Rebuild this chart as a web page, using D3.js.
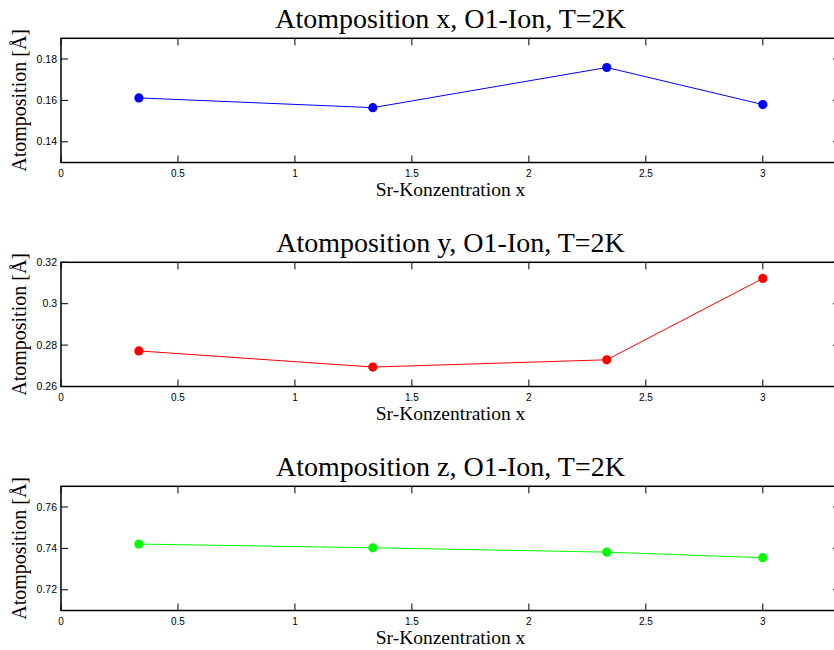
<!DOCTYPE html>
<html>
<head>
<meta charset="utf-8">
<script src="https://cdn.jsdelivr.net/npm/d3@7"></script>
<style>
  html, body { margin: 0; padding: 0; background: #fff; }
  svg { display: block; }
</style>
</head>
<body>
<svg id="chart" width="834" height="650"></svg>
<script>
// ---- data ----
const concentration = [0.333, 1.333, 2.333, 3.0];
const posX = [0.1612, 0.1565, 0.1759, 0.1580];
const posY = [0.2772, 0.2694, 0.2729, 0.3122];
const posZ = [0.7421, 0.7403, 0.7382, 0.7355];

const titles = ["Atomposition x, O1-Ion, T=2K", "Atomposition y, O1-Ion, T=2K", "Atomposition z, O1-Ion, T=2K"];
const seriesColors = ["#0000ff", "#ff0000", "#00ff00"];
const yDomains = [[0.13, 0.19], [0.26, 0.32], [0.71, 0.77]];
const yTickValues = [[0.14, 0.16, 0.18], [0.26, 0.28, 0.30, 0.32], [0.72, 0.74, 0.76]];
const xDomain = [0, 3.33];
const xTickValues = [0, 0.5, 1, 1.5, 2, 2.5, 3];
const xLabel = "Sr-Konzentration x";
const yLabel = "Atomposition [Å]";

// ---- layout ----
const svg = d3.select("#chart");
const left = 61, right = 840;
const panelTops = [38.3, 262.3, 486.3];
const panelH = 124.2;
const tickLen = 7;
const serif = "'Liberation Serif', 'Times New Roman', serif";
const sans = "'Liberation Sans', Arial, sans-serif";

const x = d3.scaleLinear().domain(xDomain).range([left, right]);
const fmt = d => (d === 0 ? "0" : String(+d.toFixed(2)));

const allSeries = [posX, posY, posZ];

allSeries.forEach((vals, i) => {
  const top = panelTops[i], bottom = top + panelH;
  const y = d3.scaleLinear().domain(yDomains[i]).range([bottom, top]);
  const g = svg.append("g");

  // ticks inward on all sides
  const tg = g.append("g").attr("stroke", "#000").attr("stroke-width", 1);
  xTickValues.forEach(t => {
    tg.append("line").attr("x1", x(t)).attr("x2", x(t)).attr("y1", bottom).attr("y2", bottom - tickLen);
    tg.append("line").attr("x1", x(t)).attr("x2", x(t)).attr("y1", top).attr("y2", top + tickLen);
  });
  yTickValues[i].forEach(t => {
    tg.append("line").attr("x1", left).attr("x2", left + tickLen).attr("y1", y(t)).attr("y2", y(t));
    tg.append("line").attr("x1", right).attr("x2", right - tickLen).attr("y1", y(t)).attr("y2", y(t));
  });

  // frame
  g.append("rect")
    .attr("x", left).attr("y", top)
    .attr("width", right - left).attr("height", panelH)
    .attr("fill", "none").attr("stroke", "#000").attr("stroke-width", 1.5);

  // tick labels
  g.append("g").selectAll("text").data(xTickValues).join("text")
    .attr("x", d => x(d)).attr("y", bottom + 14.3)
    .attr("text-anchor", "middle")
    .attr("font-family", sans).attr("font-size", 10)
    .text(fmt);
  g.append("g").selectAll("text").data(yTickValues[i]).join("text")
    .attr("x", left - 4).attr("y", d => y(d) + 3.6)
    .attr("text-anchor", "end")
    .attr("font-family", sans).attr("font-size", 10.5)
    .text(fmt);

  // data line and markers
  const line = d3.line().x((d, j) => x(concentration[j])).y(d => y(d));
  g.append("path").datum(vals)
    .attr("d", line).attr("fill", "none")
    .attr("stroke", seriesColors[i]).attr("stroke-width", 1);
  g.append("g").selectAll("circle").data(vals).join("circle")
    .attr("cx", (d, j) => x(concentration[j])).attr("cy", d => y(d))
    .attr("r", 4.6).attr("fill", seriesColors[i]);

  // title
  g.append("text")
    .attr("x", (left + right) / 2).attr("y", top - 10.6)
    .attr("text-anchor", "middle")
    .attr("font-family", serif).attr("font-size", 28)
    .text(titles[i]);

  // x label
  g.append("text")
    .attr("x", (left + right) / 2).attr("y", bottom + 33)
    .attr("text-anchor", "middle")
    .attr("font-family", serif).attr("font-size", 19.5)
    .text(xLabel);

  // y label
  g.append("text")
    .attr("transform", `translate(26,${(top + bottom) / 2}) rotate(-90)`)
    .attr("text-anchor", "middle")
    .attr("font-family", serif).attr("font-size", 20)
    .text(yLabel);
});
</script>
</body>
</html>
